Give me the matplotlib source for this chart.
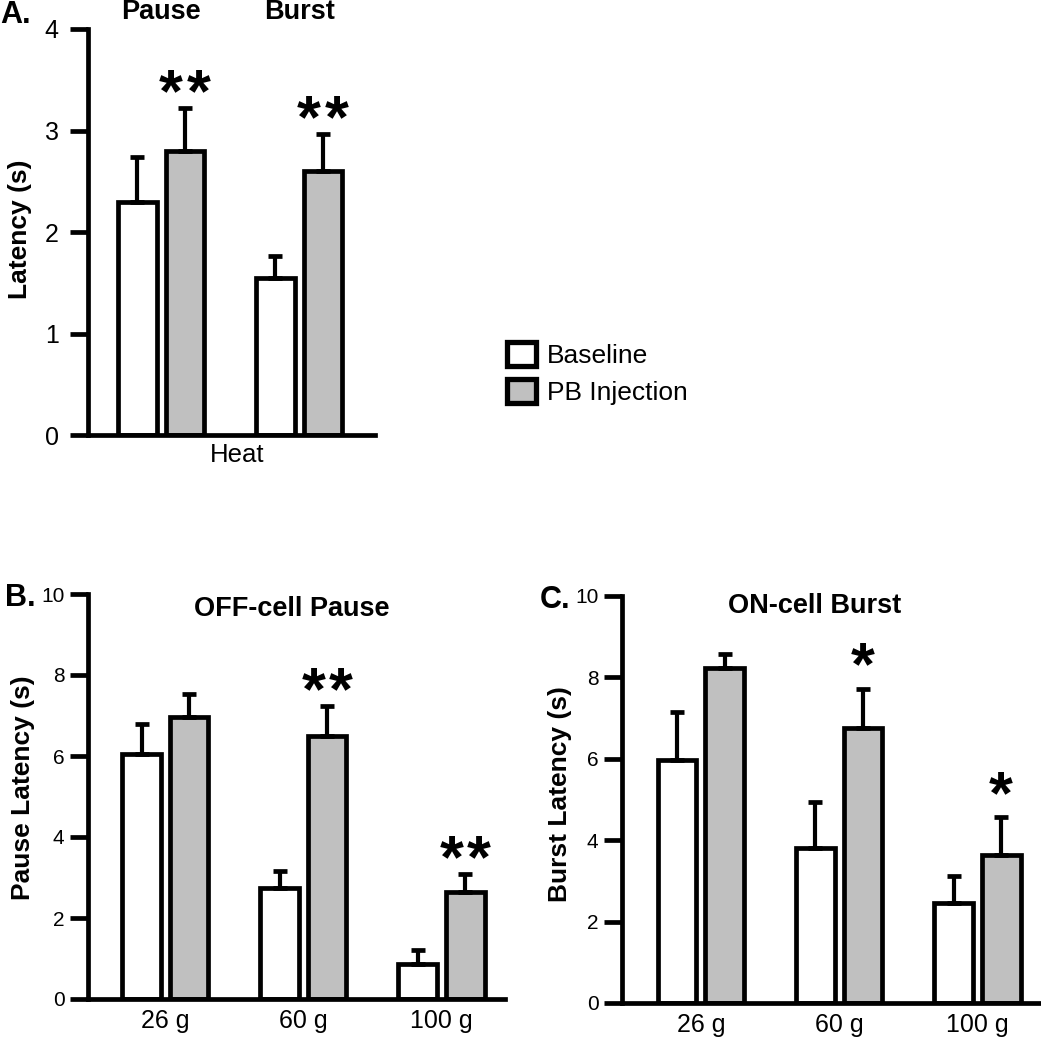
import matplotlib
matplotlib.use('Agg')
import matplotlib.pyplot as plt
import numpy as np
from matplotlib.patches import Patch

plt.rcParams['font.family'] = ['Liberation Sans', 'DejaVu Sans']

# panel A: heat evoked latencies
heat_groups = ['Pause', 'Burst']
heat_base = [2.30, 1.55]
heat_base_err = [0.44, 0.21]
heat_pb = [2.80, 2.60]
heat_pb_err = [0.42, 0.37]
heat_sig = [2, 2]

# panels B and C: von Frey forces
forces = ['26 g', '60 g', '100 g']
off_base = [6.05, 2.74, 0.86]
off_base_err = [0.74, 0.42, 0.35]
off_pb = [6.96, 6.49, 2.64]
off_pb_err = [0.57, 0.74, 0.45]
off_sig = [0, 2, 2]

on_base = [5.98, 3.82, 2.45]
on_base_err = [1.18, 1.11, 0.66]
on_pb = [8.24, 6.76, 3.63]
on_pb_err = [0.34, 0.96, 0.93]
on_sig = [0, 1, 1]

gray = '#c0c0c0'
W, H = 1041, 1050


def fbox(l, r, t, b):
    # pixel box -> figure fraction [left, bottom, width, height]
    return [l / W, 1 - b / H, (r - l) / W, (b - t) / H]


def draw_panel(ax, base, base_err, pb, pb_err, sig, ymax, step, xlim, ytick_size, star_off):
    x = np.arange(len(base))
    bw = 0.28
    off = 0.172
    ax.bar(x - off, base, bw, color='white', edgecolor='k', linewidth=3.4, zorder=2)
    ax.bar(x + off, pb, bw, color=gray, edgecolor='k', linewidth=3.4, zorder=2)
    z = np.zeros(len(base))
    ax.errorbar(x - off, base, yerr=[z, base_err], fmt='none', ecolor='k',
                elinewidth=3, capsize=4.8, capthick=3.4, zorder=3)
    ax.errorbar(x + off, pb, yerr=[z, pb_err], fmt='none', ecolor='k',
                elinewidth=3, capsize=4.8, capthick=3.4, zorder=3)
    for i, n in enumerate(sig):
        # one star or two stars side by side
        shifts = [0] if n == 1 else ([-10, 10] if n == 2 else [])
        for dx in shifts:
            ax.annotate('*', xy=(x[i] + off, pb[i] + pb_err[i]), xytext=(dx, star_off),
                        textcoords='offset points', ha='center', va='baseline',
                        fontsize=44, fontweight='bold', annotation_clip=False)
    ax.set_xlim(xlim)
    ax.set_ylim(0, ymax)
    ax.set_yticks(np.arange(0, ymax + 0.01, step))
    ax.set_yticklabels(['%d' % v for v in np.arange(0, ymax + 0.01, step)])
    for s in ['top', 'right']:
        ax.spines[s].set_visible(False)
    for s in ['left', 'bottom']:
        ax.spines[s].set_linewidth(3.4)
    ax.tick_params(axis='y', length=13, width=3.4, labelsize=ytick_size, pad=4)
    ax.tick_params(axis='x', length=0, labelsize=18, pad=7)
    return x


fig = plt.figure(figsize=(W / 100, H / 100), dpi=100)

axA = fig.add_axes(fbox(88, 375, 29, 435))
xa = draw_panel(axA, heat_base, heat_base_err, heat_pb, heat_pb_err, heat_sig,
                4, 1, (-0.53, 1.55), 18, -2.5)
axA.set_xticks([])
axA.tick_params(axis='y', pad=8)
for i, g in enumerate(heat_groups):
    axA.text(xa[i], 1.042, g, transform=axA.get_xaxis_transform(), ha='center',
             va='center', fontsize=19.5, fontweight='bold')

axB = fig.add_axes(fbox(88, 505, 594, 999))
xb = draw_panel(axB, off_base, off_base_err, off_pb, off_pb_err, off_sig,
                10, 2, (-0.56, 2.46), 15, -2.5)
axB.set_xticks(xb)
axB.set_xticklabels(forces)
axB.text(0.489, 0.963, 'OFF-cell Pause', transform=axB.transAxes, ha='center',
         va='center', fontsize=19.5, fontweight='bold')

axC = fig.add_axes(fbox(622, 1041, 596, 1003))
xc = draw_panel(axC, on_base, on_base_err, on_pb, on_pb_err, on_sig,
                10, 2, (-0.57, 2.46), 15, 3)
axC.set_xticks(xc)
axC.set_xticklabels(forces)
axC.text(0.46, 0.975, 'ON-cell Burst', transform=axC.transAxes, ha='center',
         va='center', fontsize=19.5, fontweight='bold')

# axis labels and panel letters
fig.text(20 / W, 1 - 229 / H, 'Latency (s)', rotation=90, ha='center', va='center',
         fontsize=19, fontweight='bold')
fig.text(23 / W, 1 - 788 / H, 'Pause Latency (s)', rotation=90, ha='center', va='center',
         fontsize=19, fontweight='bold')
fig.text(560 / W, 1 - 794 / H, 'Burst Latency (s)', rotation=90, ha='center', va='center',
         fontsize=19, fontweight='bold')
fig.text(237 / W, 1 - 455 / H, 'Heat', ha='center', va='center', fontsize=18.5)
fig.text(0, 1 - 15 / H, 'A.', ha='left', va='center', fontsize=22, fontweight='bold')
fig.text(5 / W, 1 - 598 / H, 'B.', ha='left', va='center', fontsize=22, fontweight='bold')
fig.text(540 / W, 1 - 600 / H, 'C.', ha='left', va='center', fontsize=22, fontweight='bold')

handles = [Patch(facecolor='white', edgecolor='k', linewidth=3.8),
           Patch(facecolor=gray, edgecolor='k', linewidth=3.8)]
fig.legend(handles, ['Baseline', 'PB Injection'], loc='upper left',
           bbox_to_anchor=(507 / W, 1 - 342 / H), frameon=False, fontsize=19,
           handlelength=1.1, handleheight=1.05, handletextpad=0.4,
           labelspacing=0.4, borderpad=0, borderaxespad=0)

fig.savefig('out.png', dpi=100)
